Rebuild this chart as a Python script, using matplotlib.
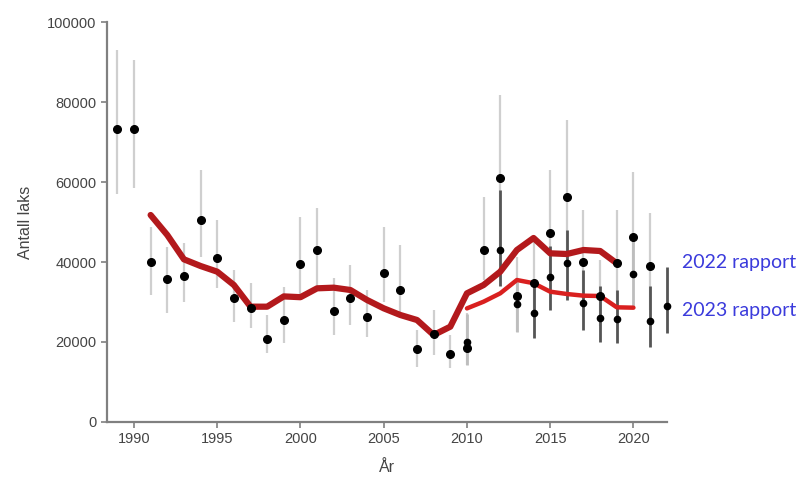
import matplotlib
matplotlib.use("Agg")
import matplotlib.pyplot as plt
import numpy as np

plt.rcParams["font.family"] = ["Liberation Sans", "DejaVu Sans"]

# 2022 report: estimates with intervals (black dots, light bars)
years_22 = [1989, 1990, 1991, 1992, 1993, 1994, 1995, 1996, 1997, 1998, 1999, 2000,
            2001, 2002, 2003, 2004, 2005, 2006, 2007, 2008, 2009, 2010, 2011, 2012,
            2013, 2014, 2015, 2016, 2017, 2018, 2019, 2020, 2021]
est_22 = [73200, 73300, 40100, 35700, 36600, 50500, 41000, 31100, 28400, 20800, 25400, 39500,
          42900, 27800, 31000, 26300, 37300, 33100, 18200, 22000, 16900, 18400, 43000, 61100,
          31600, 34800, 47300, 56200, 40100, 31600, 39700, 46200, 39000]
lo_22 = [57000, 58400, 31700, 27200, 30100, 41300, 33400, 25100, 23400, 17200, 19700, 31300,
         33000, 21800, 24300, 21300, 30100, 26300, 13800, 16800, 13400, 14300, 35500, 43000,
         22600, 26000, 36000, 40000, 30000, 24000, 30000, 37000, 28000]
hi_22 = [93000, 90500, 48800, 43800, 44700, 63000, 50500, 38000, 34700, 26800, 33800, 51300,
         53400, 35900, 39300, 33000, 48800, 44300, 23000, 28000, 21800, 27200, 56300, 81800,
         41300, 45000, 63000, 75500, 53000, 40500, 53000, 62600, 52200]

# 2023 report: estimates with intervals (dark bars)
years_23 = [2010, 2012, 2013, 2014, 2015, 2016, 2017, 2018, 2019, 2020, 2021, 2022]
est_23 = [20100, 43000, 29500, 27300, 36300, 39700, 29700, 25900, 25700, 37000, 25300, 29000]
lo_23 = [14300, 34000, 22600, 20900, 28000, 30500, 23000, 20100, 19700, 28800, 18800, 22200]
hi_23 = [27000, 58000, 35000, 34000, 44000, 48000, 38000, 34000, 33000, 46000, 34000, 38800]
dark_23 = [False, True, False, True, True, True, True, True, True, False, True, True]

# Smoothed trend lines
trend_years_22 = list(range(1991, 2020))
trend_22 = [51750, 46750, 40670, 39000, 37580, 34250, 28830, 28830, 31400, 31200, 33420,
            33580, 33000, 30500, 28420, 26750, 25500, 21750, 23830, 32170, 34250, 37580,
            43000, 46000, 42170, 42000, 43000, 42750, 39670]
trend_years_23 = list(range(2010, 2021))
trend_23 = [28400, 30080, 32170, 35500, 34700, 32580, 32000, 31580, 31500, 28670, 28580]

fig = plt.figure(figsize=(8.07, 4.86), dpi=100)
ax = fig.add_axes([0.1326, 0.1317, 0.694, 0.823])

ax.vlines(years_22, lo_22, hi_22, color="#cfcfcf", lw=1.6, zorder=1, clip_on=False)
ax.vlines(years_23, lo_23, hi_23,
          color=["#555555" if d else "#bdbdbd" for d in dark_23], lw=2.0, zorder=2,
          clip_on=False)
ax.plot(years_22, est_22, "o", color="black", ms=5.5, zorder=5, clip_on=False)
ax.plot(years_23, est_23, "o", color="black", ms=4.5, zorder=5, clip_on=False)

ax.plot(trend_years_22, trend_22, color="#b3191c", lw=4.5, zorder=4,
        solid_capstyle="round", solid_joinstyle="round")
ax.plot(trend_years_23, trend_23, color="#d9201f", lw=3.2, zorder=4,
        solid_capstyle="round", solid_joinstyle="round")

ax.set_xlim(1988.38, 2022.02)
ax.set_ylim(0, 100000)
ax.set_xticks([1990, 1995, 2000, 2005, 2010, 2015, 2020])
ax.set_yticks([0, 20000, 40000, 60000, 80000, 100000])
for s in ["top", "right"]:
    ax.spines[s].set_visible(False)
for s in ["left", "bottom"]:
    ax.spines[s].set_color("#808080")
    ax.spines[s].set_linewidth(1.6)
ax.tick_params(axis="both", colors="#808080", length=4, width=1.2,
               labelcolor="#444444", labelsize=10.5)
ax.set_ylabel("Antall laks", fontsize=11.5, color="#444444", labelpad=10)
ax.set_xlabel("År", fontsize=11.5, color="#444444", labelpad=10)

fig.text(0.845, 0.459, "2022 rapport", color="#3b3bdc", fontsize=14,
         family=["Lato", "DejaVu Sans"], va="center", ha="left")
fig.text(0.845, 0.362, "2023 rapport", color="#3b3bdc", fontsize=14,
         family=["Lato", "DejaVu Sans"], va="center", ha="left")

fig.savefig("out.png", dpi=100)
